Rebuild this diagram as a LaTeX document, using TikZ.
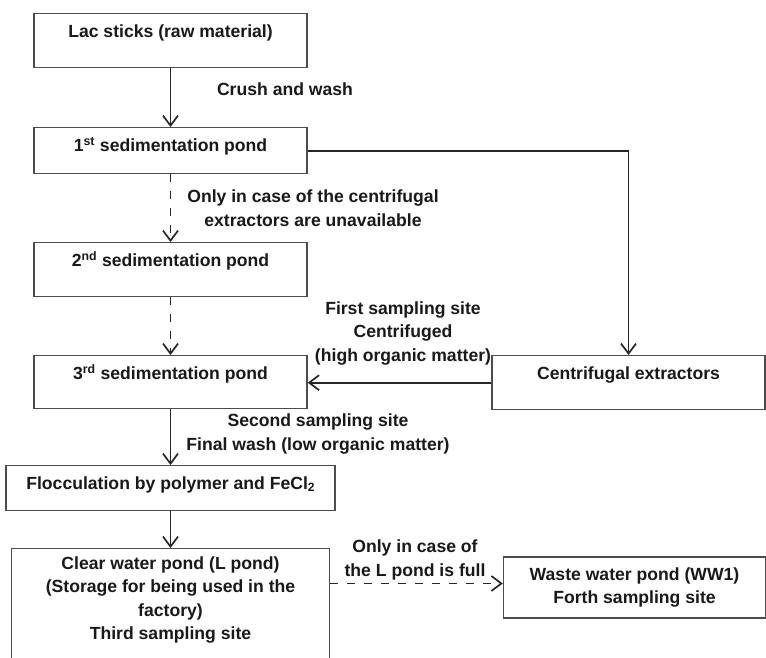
\documentclass[tikz,border=0pt]{standalone}
\usepackage{fontspec}
\setmainfont{Liberation Sans}
\usetikzlibrary{arrows.meta}

\begin{document}
\begin{tikzpicture}[x=1pt, y=-1pt,
    every node/.style={font=\fontsize{17.6}{23.5}\selectfont\bfseries, text=black!90},
    pond/.style={draw=black!70, line width=1.4pt, anchor=north, inner ysep=6pt, text height=18pt},
    flow/.style={line width=1.7pt, draw=black!85, -{Straight Barb[length=10pt,width=15pt]}},
    maybe/.style={flow, dash pattern=on 8pt off 9pt}]
    % Frame
    \clip (0,0) rectangle (766,657);
    \fill[white] (0,0) rectangle (766,657);

    % Ponds down the left
    \node[pond, minimum width=273pt, text depth=24pt] (lac) at (170.5,13) {Lac sticks (raw material)};
    \node[pond, minimum width=273pt, text depth=16pt] (sed1) at (170.5,127) {1\textsuperscript{st} sedimentation pond};
    \node[pond, minimum width=273pt, text depth=24pt] (sed2) at (170.5,242) {2\textsuperscript{nd} sedimentation pond};
    \node[pond, minimum width=273pt, text depth=23pt] (sed3) at (170.5,355) {3\textsuperscript{rd} sedimentation pond};
    \node[pond, minimum width=329pt, text depth=15pt] (floc) at (170.5,465) {Flocculation by polymer and FeCl{\fontsize{12}{12}\selectfont\raisebox{-2pt}{2}}};
    \node[pond, minimum width=318pt, text height=, align=center, inner ysep=8pt] (clear) at (170.5,548)
        {Clear water pond (L pond)\\(Storage for being used in the\\factory)\\Third sampling site\rule[-40pt]{0pt}{40pt}};

    % Boxes on the right
    \node[pond, minimum width=273pt, text depth=24pt] (cent) at (628.5,355) {Centrifugal extractors};
    \node[pond, anchor=center, text height=, minimum width=262pt, minimum height=61pt, align=center] (waste) at (634.5,587.5)
        {Waste water pond (WW1)\\Forth sampling site};

    % Flow
    \draw[flow] (lac) -- (sed1);
    \draw[maybe] (sed1) -- (sed2);
    \draw[maybe] (sed2) -- (sed3);
    \draw[flow] (sed1.east) -| (cent.north);
    \draw[flow] (cent.west) -- (cent.west -| sed3.east);
    \draw[flow] (sed3) -- (floc);
    \draw[flow] (floc) -- (clear);
    \draw[maybe] ([yshift=4pt]waste.west -| clear.east) -- ([yshift=4pt]waste.west);

    % Notes on the arrows
    \node (crush) at (285,89) {Crush and wash};
    \node[align=center] (unavail) at (313,208) {Only in case of the centrifugal\\extractors are unavailable};
    \node[align=center] (first) at (403,333) {First sampling site\\Centrifuged\\(high organic matter)};
    \node[align=center] (second) at (318,434) {Second sampling site\\Final wash (low organic matter)};
    \node[align=center] (full) at (415,560) {Only in case of\\the L pond is full};
\end{tikzpicture}
\end{document}
